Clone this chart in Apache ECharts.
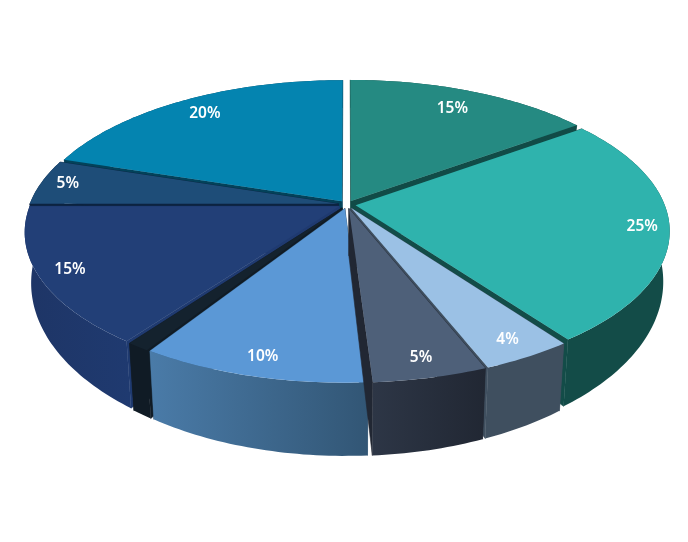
<!DOCTYPE html>
<html>
<head>
<meta charset="utf-8">
<style>html,body{margin:0;padding:0;background:#fff}#c{width:688px;height:542px}</style>
<script src="https://cdn.jsdelivr.net/npm/echarts@6/dist/echarts.min.js"></script>
</head>
<body>
<div id="c"></div>
<script>
const categories = ['A','B','C','D','E','F','G','H','I'];
const values = [15,25,4,5,10,1,15,5,20];
const labels = ['15%','25%','4%','5%','10%','','15%','5%','20%'];
const labelRadius = [0.82,0.915,0.90,0.90,0.90,0.9,0.905,0.91,0.85];
const topColors = ['#258a82','#2fb3ad','#9bc1e5','#4e6079','#5b98d6','#14222e','#223f77','#1e4d78','#0484b0'];
const wallLeft  = ['#114b47','#134c48','#3f4f5f','#2d3646','#4a7ba8','#101b25','#1e3566','#0c2340','#03425a'];
const wallRight = ['#114b47','#134c48','#3f4f5f','#212733','#325675','#101b25','#1f3a70','#0c2340','#03425a'];

const view = {cx:347, cy:204.5, A:309, B:142.9, k:0.1715, explode:0.028,
              bottomX:0.98, bottomY:1.15, drop:46.5};
const total = values.reduce((a,b)=>a+b,0);
const starts = []; let acc = 0;
values.forEach(v=>{starts.push(acc/total*Math.PI*2); acc+=v;});
const mids = values.map((v,i)=>starts[i]+v/total*Math.PI);
const order = values.map((v,i)=>i).sort((a,b)=>(-Math.cos(mids[a]))-(-Math.cos(mids[b])));
const rank = []; order.forEach((idx,r)=>{rank[idx]=r;});

function proj(X,Y,lower){
  const d = 1 - view.k*Y;
  const sx = lower ? view.bottomX : 1;
  const sy = lower ? view.bottomY : 1;
  return [view.cx + sx*view.A*X/d,
          view.cy + (lower?view.drop:0) + sy*view.B*Y/d];
}
function renderItem(params, api){
  const i = params.dataIndex;
  const a0 = starts[i], a1 = a0 + api.value(0)/total*Math.PI*2, m = (a0+a1)/2;
  const ox = Math.sin(m)*view.explode, oy = -Math.cos(m)*view.explode;
  const rim = [];
  const steps = Math.max(4, Math.ceil((a1-a0)*180/Math.PI));
  for(let s=0;s<=steps;s++){
    const t = a0+(a1-a0)*s/steps;
    rim.push([ox+Math.sin(t), oy-Math.cos(t)]);
  }
  const up = p=>proj(p[0],p[1],false), lo = p=>proj(p[0],p[1],true);
  const apex = [ox,oy];
  const topPts = [up(apex)].concat(rim.map(up));
  const outer = rim.map(up).concat(rim.slice().reverse().map(lo));
  const first = rim[0], last = rim[rim.length-1];
  const side = (p)=>[up(apex),up(p),lo(p),lo(apex)];
  const z = rank[i]*4+1;
  const solid = wallRight[i];
  const grad = new echarts.graphic.LinearGradient(0,0,1,0,[
    {offset:0,color:wallLeft[i]},{offset:1,color:wallRight[i]}]);
  const r = labelRadius[i];
  const lp = [ox+Math.sin(m)*r, oy-Math.cos(m)*r];
  const children = [
    {type:'polygon',z2:z,shape:{points:side(first)},style:{fill:solid,stroke:solid,lineWidth:0.6}},
    {type:'polygon',z2:z,shape:{points:side(last)},style:{fill:solid,stroke:solid,lineWidth:0.6}},
    {type:'polygon',z2:z+1,shape:{points:outer},style:{fill:grad}},
    {type:'polygon',z2:z+2,shape:{points:topPts},style:{fill:topColors[i]}}
  ];
  if(labels[i]){
    const q = up(lp);
    children.push({type:'text',z2:1000,x:q[0],y:q[1],style:{
      text:labels[i],fill:'#fff',align:'center',verticalAlign:'middle',
      font:'600 15.5px "Noto Sans"'}});
  }
  return {type:'group',children};
}
const chart = echarts.init(document.getElementById('c'),null,{renderer:'canvas'});
chart.setOption({
  backgroundColor:'#fff',
  animation:false,
  series:[{type:'custom',coordinateSystem:'none',renderItem,
    data:values.map((v,i)=>({name:categories[i],value:[v]}))}]
});
</script>
</body>
</html>
